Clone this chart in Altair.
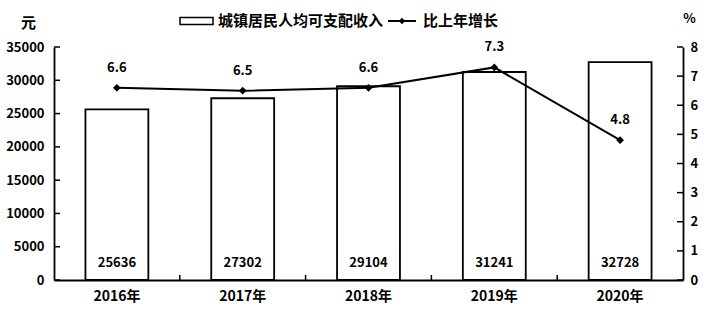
import altair as alt
import pandas as pd

years = ["2016年", "2017年", "2018年", "2019年", "2020年"]
income = [25636, 27302, 29104, 31241, 32728]
growth = [6.6, 6.5, 6.6, 7.3, 4.8]
left_ticks = [0, 5000, 10000, 15000, 20000, 25000, 30000, 35000]
right_ticks = [0, 1, 2, 3, 4, 5, 6, 7, 8]
legend_labels = ["城镇居民人均可支配收入", "比上年增长"]
unit_left = "元"
unit_right = "%"

W, H = 629, 233
FONT = "Noto Sans CJK SC"
WEIGHT = "bold"

df = pd.DataFrame({"year": years, "income": income, "growth": growth})

xaxis = alt.Axis(title=None, labelAngle=0, ticks=False, domainColor="black",
                 domainWidth=1.8, labelFontSize=14, labelFont=FONT,
                 labelFontWeight=WEIGHT, labelColor="black", labelPadding=9,
                 grid=False)
xscale = alt.Scale(domain=years, paddingInner=0, paddingOuter=0)


def X(**kw):
    return alt.X("year:N", scale=xscale, axis=xaxis, **kw)


bars = alt.Chart(df).mark_bar(
    width=alt.RelativeBandSize(0.5), fill="white", stroke="black", strokeWidth=1.8
).encode(
    x=X(),
    y=alt.Y("income:Q", scale=alt.Scale(domain=[0, 35000]),
            axis=alt.Axis(orient="left", values=left_ticks, format="d", ticks=False, grid=False,
                          domainColor="black", domainWidth=1.8,
                          labelFont=FONT, labelFontSize=13, labelFontWeight=WEIGHT,
                          labelColor="black", labelPadding=10,
                          title=unit_left, titleAngle=0, titleX=-26, titleY=-25,
                          titleAlign="center", titleBaseline="middle",
                          titleFont=FONT, titleFontSize=15, titleFontWeight=WEIGHT,
                          titleColor="black")),
)

bar_labels = alt.Chart(df).mark_text(
    font=FONT, fontSize=13, fontWeight=WEIGHT, color="black", baseline="middle"
).encode(
    x=X(),
    y=alt.value(216),
    text=alt.Text("income:Q", format="d"),
)

yr = alt.Y("growth:Q", scale=alt.Scale(domain=[0, 8]),
           axis=alt.Axis(orient="right", values=right_ticks, format="d", ticks=False, grid=False,
                         domainColor="black", domainWidth=1.8,
                         labelFont=FONT, labelFontSize=13, labelFontWeight=WEIGHT,
                         labelColor="black", labelPadding=7,
                         title=unit_right, titleAngle=0, titleX=6, titleY=-29,
                         titleAlign="center", titleBaseline="middle",
                         titleFont=FONT, titleFontSize=13, titleFontWeight=WEIGHT,
                         titleColor="black"))

line_base = alt.Chart(df).encode(x=X(), y=yr)
line = line_base.mark_line(color="black", strokeWidth=2)
pts = line_base.mark_point(shape="diamond", filled=True, color="black", size=60, opacity=1)
line_labels = line_base.mark_text(
    font=FONT, fontSize=13, fontWeight=WEIGHT, color="black", dy=-20, baseline="middle"
).encode(text=alt.Text("growth:Q", format=".1f"))
line_group = alt.layer(line, pts, line_labels)

lt = pd.DataFrame({"v": left_ticks})
left_tick_marks = alt.Chart(lt).mark_rule(color="black", strokeWidth=1.5).encode(
    y=alt.Y("v:Q", scale=alt.Scale(domain=[0, 35000]), axis=None),
    x=alt.value(0), x2=alt.value(6),
)
rt = pd.DataFrame({"r": right_ticks})
right_tick_marks = alt.Chart(rt).mark_rule(color="black", strokeWidth=1.5).encode(
    y=alt.Y("r:Q", scale=alt.Scale(domain=[0, 8]), axis=None),
    x=alt.value(W - 6), x2=alt.value(W),
)
bt = pd.DataFrame({"year": years[1:]})
bottom_tick_marks = alt.Chart(bt).mark_rule(color="black", strokeWidth=1.5).encode(
    x=X(bandPosition=0),
    y=alt.value(H), y2=alt.value(H - 5),
)

# legend
leg1 = pd.DataFrame({"label": [legend_labels[0]]})
leg2 = pd.DataFrame({"label": [legend_labels[1]]})
leg_rect = alt.Chart(leg1).mark_rect(fill="white", stroke="black", strokeWidth=1.5).encode(
    x=alt.value(126), x2=alt.value(159), y=alt.value(-29.5), y2=alt.value(-22.5))
leg_text1 = alt.Chart(leg1).mark_text(
    font=FONT, fontSize=15, fontWeight=WEIGHT, color="black", align="left", baseline="middle"
).encode(text="label:N", x=alt.value(164), y=alt.value(-26))
leg_line = alt.Chart(leg2).mark_rule(color="black", strokeWidth=2).encode(
    x=alt.value(334), x2=alt.value(362), y=alt.value(-26))
leg_pt = alt.Chart(leg2).mark_point(shape="diamond", filled=True, color="black", size=40, opacity=1).encode(
    x=alt.value(348), y=alt.value(-26))
leg_text2 = alt.Chart(leg2).mark_text(
    font=FONT, fontSize=15, fontWeight=WEIGHT, color="black", align="left", baseline="middle"
).encode(text="label:N", x=alt.value(369), y=alt.value(-26))

chart = alt.layer(
    bars, bar_labels, line_group, left_tick_marks, right_tick_marks, bottom_tick_marks,
    leg_rect, leg_text1, leg_line, leg_pt, leg_text2
).resolve_scale(y="independent").properties(
    width=W, height=H,
    autosize=alt.AutoSizeParams(type="none"),
    padding={"left": 54, "top": 47, "right": 25, "bottom": 34},
    background="white",
).configure_view(stroke=None)

chart.save("out.html", embed_options={"renderer": "svg", "actions": False})
